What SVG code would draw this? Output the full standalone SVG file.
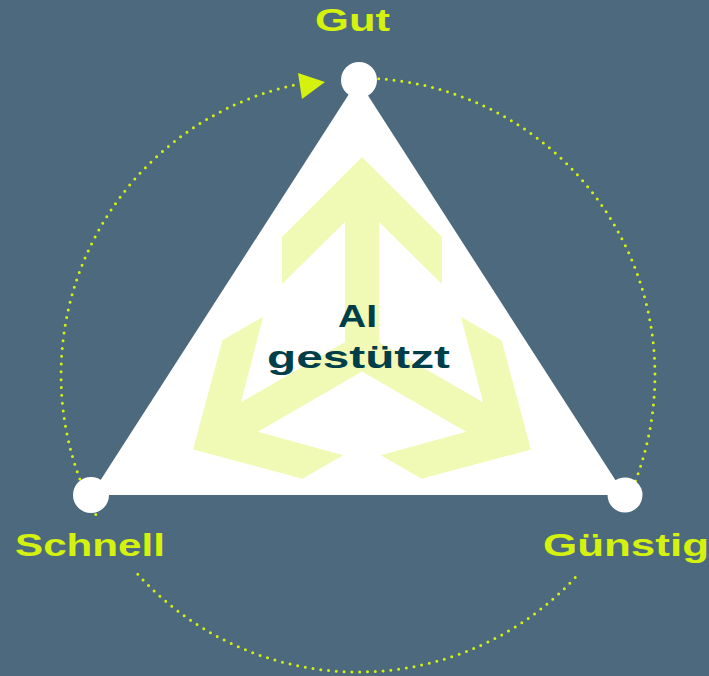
<svg xmlns="http://www.w3.org/2000/svg" width="709" height="676" viewBox="0 0 709 676">
<style>
.lbl{font-family:"Liberation Sans",Arial,sans-serif;font-weight:bold;font-size:32px;fill:#d4f20e}
.ctr{font-family:"Liberation Sans",Arial,sans-serif;font-weight:bold;font-size:31px;fill:#003f4a}
.dots{fill:none;stroke:#d4f20e;stroke-width:3;stroke-linecap:round;stroke-dasharray:0 7.8}
.node{fill:#ffffff}
.chev{fill:#f0fab5}
</style>
<rect width="709" height="676" fill="#4d697e"/>
<g id="connectors">
<path class="dots" d="M95.8,514.4 A297,297 0 0 1 296.3,84.5"/>
<polygon points="298,73 325,82 302,99" fill="#d4f20e"/>
<path class="dots" d="M378.7,78.7 A297,297 0 0 1 620.2,514.4"/>
<path class="dots" d="M575.2,577.6 A297,297 0 0 1 137.3,573.7"/>
</g>
<g id="triangle">
<polygon class="node" points="358,80 91,495 625,495"/>
</g>
<g id="arrows">
<polygon id="arrow-up" class="chev" points="362,157 442,237 442,284 379,222 379,342.2 362,352 345,342.2 345,222 282,284 282,237"/>
<use href="#arrow-up" transform="rotate(120 362 352)"/>
<use href="#arrow-up" transform="rotate(240 362 352)"/>
</g>
<g id="center-label">
<text class="ctr" x="338" y="327" textLength="39" lengthAdjust="spacingAndGlyphs">AI</text>
<text class="ctr" x="267" y="368" textLength="183" lengthAdjust="spacingAndGlyphs">gestützt</text>
</g>
<g id="node-gut">
<circle class="node" cx="359" cy="80" r="18"/>
<text class="lbl" x="315" y="31" textLength="75" lengthAdjust="spacingAndGlyphs">Gut</text>
</g>
<g id="node-schnell">
<circle class="node" cx="91" cy="495" r="18"/>
<text class="lbl" x="15" y="556" textLength="150" lengthAdjust="spacingAndGlyphs">Schnell</text>
</g>
<g id="node-guenstig">
<circle class="node" cx="625" cy="495" r="17.5"/>
<text class="lbl" x="543" y="556" textLength="166" lengthAdjust="spacingAndGlyphs">Günstig</text>
</g>
</svg>
